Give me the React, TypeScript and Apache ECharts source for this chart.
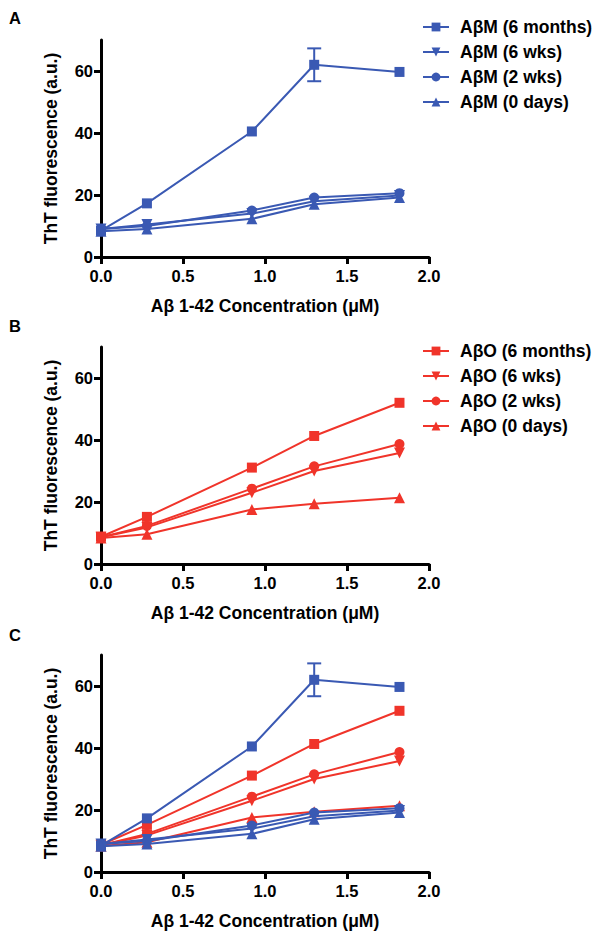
import React, { useEffect, useRef } from "react";
import * as echarts from "echarts";

const xs = [0, 0.28, 0.92, 1.3, 1.82];
const abm6mo = [8.5, 17.3, 40.5, 62.0, 59.7];
const abm6moSem = [0, 0, 0, 5.3, 0];
const abm6wk = [9.0, 10.5, 14.0, 18.0, 19.8];
const abm2wk = [9.0, 10.0, 15.0, 19.2, 20.6];
const abm0d = [8.3, 9.0, 12.3, 17.0, 19.2];
const abo6mo = [8.8, 15.2, 31.1, 41.3, 52.0];
const abo6wk = [8.6, 11.8, 23.0, 30.0, 35.8];
const abo2wk = [8.6, 12.3, 24.3, 31.5, 38.7];
const abo0d = [8.4, 9.6, 17.6, 19.4, 21.4];

const abmNames = ["AβM (6 months)", "AβM (6 wks)", "AβM (2 wks)", "AβM (0 days)"];
const aboNames = ["AβO (6 months)", "AβO (6 wks)", "AβO (2 wks)", "AβO (0 days)"];
const yTicks = [0, 20, 40, 60];
const panelLetters = ["A", "B", "C"];
const xTitle = "Aβ 1-42 Concentration (μM)";
const yTitle = "ThT fluorescence (a.u.)";

const BLUE = "#3A59B3";
const RED = "#F0342A";
const FONT = "'Liberation Sans', Arial, Helvetica, sans-serif";

const gridTops = [40, 347, 655];
const gridH = 217;

export default function App() {
  const ref = useRef<HTMLDivElement>(null);
  useEffect(() => {
    if (!ref.current) return;
    const chart = echarts.init(ref.current, null, { renderer: "svg" });

    const syms = [
      { symbol: "rect", rotate: 0, size: 10 },
      { symbol: "triangle", rotate: 180, size: 11 },
      { symbol: "circle", rotate: 0, size: 10 },
      { symbol: "triangle", rotate: 0, size: 11 },
    ];
    const mk = (name: string, vals: number[], color: string, k: number, g: number, z: number) => ({
      type: "line",
      name,
      xAxisIndex: g,
      yAxisIndex: g,
      data: xs.map((x, i) => [x, vals[i]]),
      symbol: syms[k].symbol,
      symbolRotate: syms[k].rotate,
      symbolSize: syms[k].size,
      lineStyle: { color, width: 2 },
      itemStyle: { color },
      z,
      clip: false,
    });
    const errData = xs
      .map((x, i) => [x, abm6mo[i] - abm6moSem[i], abm6mo[i] + abm6moSem[i], abm6moSem[i]])
      .filter((d) => d[3] > 0);
    const errSeries = (g: number, z: number) => ({
      type: "custom",
      name: "err" + g,
      xAxisIndex: g,
      yAxisIndex: g,
      data: errData,
      encode: { x: 0, y: [1, 2] },
      z,
      renderItem: (params: any, api: any) => {
        const x = api.value(0);
        const lo = api.coord([x, api.value(1)]);
        const hi = api.coord([x, api.value(2)]);
        const hw = 7;
        const st = { stroke: BLUE, lineWidth: 2 };
        return {
          type: "group",
          children: [
            { type: "line", shape: { x1: lo[0], y1: lo[1], x2: hi[0], y2: hi[1] }, style: st },
            { type: "line", shape: { x1: lo[0] - hw, y1: lo[1], x2: lo[0] + hw, y2: lo[1] }, style: st },
            { type: "line", shape: { x1: hi[0] - hw, y1: hi[1], x2: hi[0] + hw, y2: hi[1] }, style: st },
          ],
        };
      },
    });

    const abmVals = [abm6mo, abm6wk, abm2wk, abm0d];
    const aboVals = [abo6mo, abo6wk, abo2wk, abo0d];
    const series: any[] = [];
    abmVals.forEach((v, k) => series.push(mk(abmNames[k], v, BLUE, k, 0, 3)));
    series.push(errSeries(0, 2));
    aboVals.forEach((v, k) => series.push(mk(aboNames[k], v, RED, k, 1, 3)));
    aboVals.forEach((v, k) => series.push(mk(aboNames[k], v, RED, k, 2, 3)));
    abmVals.forEach((v, k) => series.push(mk(abmNames[k], v, BLUE, k, 2, 4)));
    series.push(errSeries(2, 4));

    const axisTitleStyle = { fontSize: 17.5, fontWeight: "bold", color: "#000", fontFamily: FONT };
    const labelStyle = { fontSize: 16.5, fontWeight: "bold", color: "#000", fontFamily: FONT };

    const grids = gridTops.map((t) => ({ left: 101, top: t, width: 328, height: gridH, containLabel: false }));
    const xAxes = gridTops.map((_, g) => ({
      type: "value",
      gridIndex: g,
      min: 0,
      max: 2,
      interval: 0.5,
      axisLine: { show: true, onZero: false, lineStyle: { color: "#000", width: 3 } },
      axisTick: { show: true, length: 7, lineStyle: { color: "#000", width: 3 } },
      axisLabel: { ...labelStyle, margin: 10, formatter: (v: number) => v.toFixed(1) },
      splitLine: { show: false },
      name: xTitle,
      nameLocation: "middle",
      nameGap: 40,
      nameTextStyle: axisTitleStyle,
    }));
    const yAxes = gridTops.map((_, g) => ({
      type: "value",
      gridIndex: g,
      min: 0,
      max: 70,
      interval: 10,
      axisLine: { show: true, onZero: false, lineStyle: { color: "#000", width: 3 } },
      axisTick: { show: true, length: 7, customValues: yTicks, lineStyle: { color: "#000", width: 3 } },
      axisLabel: { ...labelStyle, margin: 8, customValues: yTicks },
      splitLine: { show: false },
      name: yTitle,
      nameLocation: "middle",
      nameGap: 41,
      nameTextStyle: axisTitleStyle,
    }));

    const legendBase = {
      orient: "vertical",
      left: 422,
      itemWidth: 26,
      itemHeight: 11,
      itemGap: 5,
      padding: 0,
      selectedMode: false,
      textStyle: { fontSize: 17.5, fontWeight: "bold", color: "#000", fontFamily: FONT, lineHeight: 20, padding: [0, 0, 0, 6] },
    };

    chart.setOption({
      animation: false,
      backgroundColor: "#fff",
      grid: grids,
      xAxis: xAxes,
      yAxis: yAxes,
      legend: [
        { ...legendBase, data: abmNames, top: 17 },
        { ...legendBase, data: aboNames, top: 341 },
      ],
      graphic: panelLetters.map((L, i) => ({
        type: "text",
        left: 9,
        top: [9, 317, 626][i],
        style: { text: L, fontSize: 16.5, fontWeight: "bold", fill: "#000", fontFamily: FONT },
      })),
      series,
    });
    return () => chart.dispose();
  }, []);
  return <div ref={ref} style={{ position: "absolute", left: 0, top: 0, width: 603, height: 937 }} />;
}
